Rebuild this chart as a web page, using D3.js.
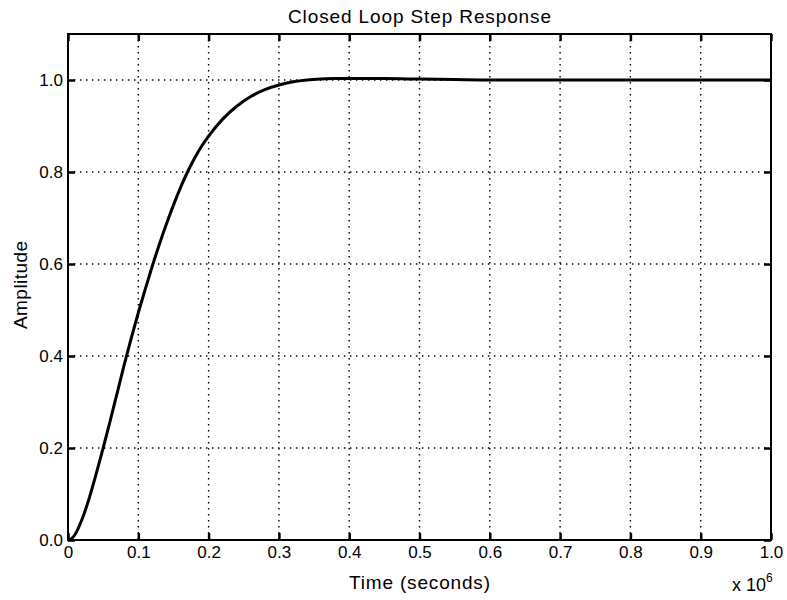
<!DOCTYPE html>
<html>
<head>
<meta charset="utf-8">
<script src="https://cdn.jsdelivr.net/npm/d3@7/dist/d3.min.js"></script>
<style>
  html, body { margin: 0; padding: 0; background: #fff; }
  svg { display: block; font-family: "Liberation Sans", Arial, Helvetica, sans-serif; }
</style>
</head>
<body>
<svg id="chart" width="787" height="600"></svg>
<script>
// Closed loop step response, time in units of 1e6 seconds
const timeValues = [0, 0.005, 0.01, 0.02, 0.03, 0.04, 0.05, 0.06, 0.07, 0.08, 0.09,
  0.10, 0.11, 0.12, 0.13, 0.14, 0.15, 0.16, 0.17, 0.18, 0.19, 0.20, 0.22, 0.24,
  0.26, 0.28, 0.30, 0.32, 0.34, 0.36, 0.38, 0.40, 0.45, 0.50, 0.55, 0.60, 0.70,
  0.80, 0.90, 1.00];
const amplitudeValues = [0, 0.003, 0.012, 0.045, 0.09, 0.143, 0.20, 0.259, 0.32,
  0.381, 0.439, 0.494, 0.546, 0.596, 0.643, 0.687, 0.728, 0.766, 0.80, 0.83,
  0.856, 0.878, 0.915, 0.943, 0.964, 0.979, 0.989, 0.996, 1.0, 1.002, 1.003,
  1.003, 1.003, 1.002, 1.001, 1.0, 1.0, 1.0, 1.0, 1.0];

const timeTicks = [0, 0.1, 0.2, 0.3, 0.4, 0.5, 0.6, 0.7, 0.8, 0.9, 1.0];
const timeTickLabels = ["0", "0.1", "0.2", "0.3", "0.4", "0.5", "0.6", "0.7", "0.8", "0.9", "1.0"];
const ampTicks = [0, 0.2, 0.4, 0.6, 0.8, 1.0];
const ampTickLabels = ["0.0", "0.2", "0.4", "0.6", "0.8", "1.0"];

const titleText = "Closed Loop Step Response";
const xLabelText = "Time (seconds)";
const yLabelText = "Amplitude";

const svg = d3.select("#chart");
const plotLeft = 68, plotRight = 771, plotTop = 34, plotBottom = 540;

const x = d3.scaleLinear().domain([0, 1]).range([plotLeft, plotRight]);
const y = d3.scaleLinear().domain([0, 1.1]).range([plotBottom, plotTop]);

// dotted grid
const grid = svg.append("g")
  .attr("stroke", "#000")
  .attr("stroke-width", 1.4)
  .attr("stroke-dasharray", "1.4 4.6");
grid.selectAll("line.v").data(timeTicks).join("line")
  .attr("class", "v")
  .attr("x1", d => x(d)).attr("x2", d => x(d))
  .attr("y1", plotTop).attr("y2", plotBottom);
grid.selectAll("line.h").data(ampTicks).join("line")
  .attr("class", "h")
  .attr("x1", plotLeft).attr("x2", plotRight)
  .attr("y1", d => y(d)).attr("y2", d => y(d));

// axes with inward ticks on all four sides
function styleAxis(g) {
  g.selectAll(".domain").remove();
  g.selectAll(".tick line").attr("stroke", "#000").attr("stroke-width", 2.5);
  g.selectAll(".tick text")
    .attr("fill", "#000")
    .style("font-size", "17px");
}

svg.append("g")
  .attr("transform", `translate(0,${plotBottom})`)
  .call(d3.axisBottom(x).tickValues(timeTicks)
    .tickFormat((d, i) => timeTickLabels[i]).tickSize(-7).tickPadding(6))
  .call(styleAxis);

svg.append("g")
  .attr("transform", `translate(0,${plotTop})`)
  .call(d3.axisTop(x).tickValues(timeTicks).tickFormat("").tickSize(-7))
  .call(styleAxis);

svg.append("g")
  .attr("transform", `translate(${plotLeft},0)`)
  .call(d3.axisLeft(y).tickValues(ampTicks)
    .tickFormat((d, i) => ampTickLabels[i]).tickSize(-7).tickPadding(5))
  .call(styleAxis);

svg.append("g")
  .attr("transform", `translate(${plotRight},0)`)
  .call(d3.axisRight(y).tickValues(ampTicks).tickFormat("").tickSize(-7))
  .call(styleAxis);

// frame
svg.append("rect")
  .attr("x", plotLeft).attr("y", plotTop)
  .attr("width", plotRight - plotLeft).attr("height", plotBottom - plotTop)
  .attr("fill", "none")
  .attr("stroke", "#000")
  .attr("stroke-width", 2);

// response curve
const series = timeValues.map((t, i) => [t, amplitudeValues[i]]);
svg.append("path")
  .datum(series)
  .attr("fill", "none")
  .attr("stroke", "#000")
  .attr("stroke-width", 3)
  .attr("stroke-linejoin", "round")
  .attr("d", d3.line().x(d => x(d[0])).y(d => y(d[1])).curve(d3.curveMonotoneX));

// title and labels
svg.append("text")
  .attr("x", (plotLeft + plotRight) / 2).attr("y", 23)
  .attr("text-anchor", "middle")
  .style("font-size", "19px")
  .attr("textLength", 263)
  .text(titleText);

svg.append("text")
  .attr("x", (plotLeft + plotRight) / 2).attr("y", 589)
  .attr("text-anchor", "middle")
  .style("font-size", "19px")
  .attr("textLength", 141)
  .text(xLabelText);

svg.append("text")
  .attr("transform", "translate(27,285) rotate(-90)")
  .attr("text-anchor", "middle")
  .style("font-size", "19px")
  .attr("textLength", 88)
  .text(yLabelText);

// x-axis multiplier
const mult = svg.append("text")
  .attr("x", 732).attr("y", 591)
  .style("font-size", "18px");
mult.append("tspan").text("x 10");
mult.append("tspan").attr("dy", -9).style("font-size", "12px").text("6");
</script>
</body>
</html>
